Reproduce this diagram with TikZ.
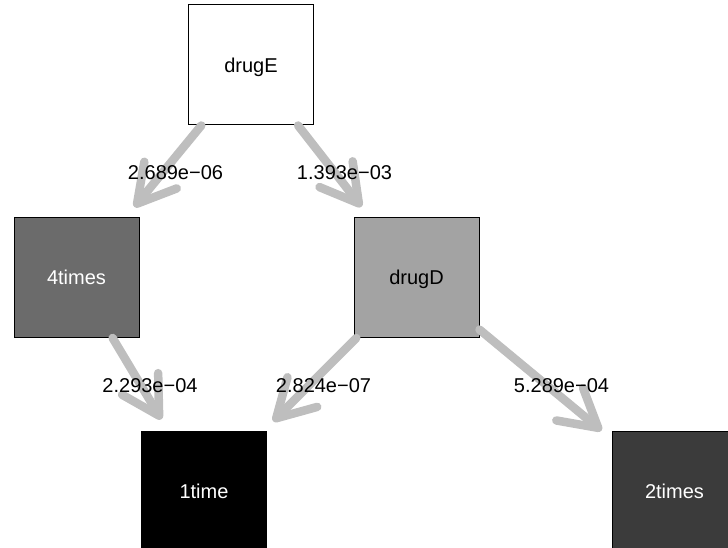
\documentclass[tikz,border=0pt]{standalone}
\usepackage{fontspec}
\setmainfont{Liberation Sans}
\usetikzlibrary{arrows.meta}
\definecolor{edgegray}{HTML}{BEBEBE}
\definecolor{gFour}{HTML}{6B6B6B}
\definecolor{gD}{HTML}{A3A3A3}
\definecolor{gTwo}{HTML}{3B3B3B}
\tikzset{
  vbox/.style={draw=black, line width=1pt, rectangle, minimum width=125pt, minimum height=120pt,
    inner sep=0pt, text height=14.5pt, text depth=0pt, font=\fontsize{20}{24}\selectfont},
  elabel/.style={inner sep=0pt, font=\fontsize{20}{24}\selectfont},
  edge/.style={draw=edgegray, line width=8.5pt, line cap=round, shorten >=13pt,
    -{Straight Barb[length=37pt, width=42pt, round]}}
}
\begin{document}
\begin{tikzpicture}[x=1pt, y=-1pt]
\useasboundingbox (0,0) rectangle (728,548);
\begin{scope}
\clip (0,0) rectangle (728,548);
\node[vbox, fill=white, text=black] (E) at (251,65) {drugE};
\node[vbox, fill=gFour, text=white] (F) at (76.5,277.5) {4times};
\node[vbox, fill=gD, text=black] (D) at (416.5,277.5) {drugD};
\node[vbox, fill=black, text=white] (O) at (204,491) {1time};
\node[vbox, fill=gTwo, text=white] (T) at (674.5,491) {2times};
\draw[edge] (E) -- (F);
\draw[edge] (E) -- (D);
\draw[edge] (F) -- (O);
\draw[edge] (D) -- (O);
\draw[edge] (D) -- (T);
\node[elabel] (l1) at (175.5,172.5) {2.689e−06};
\node[elabel] (l2) at (344.5,172.5) {1.393e−03};
\node[elabel] (l3) at (150,386) {2.293e−04};
\node[elabel] (l4) at (323.5,385.5) {2.824e−07};
\node[elabel] (l5) at (561.5,385.5) {5.289e−04};
\end{scope}
\end{tikzpicture}
\end{document}
